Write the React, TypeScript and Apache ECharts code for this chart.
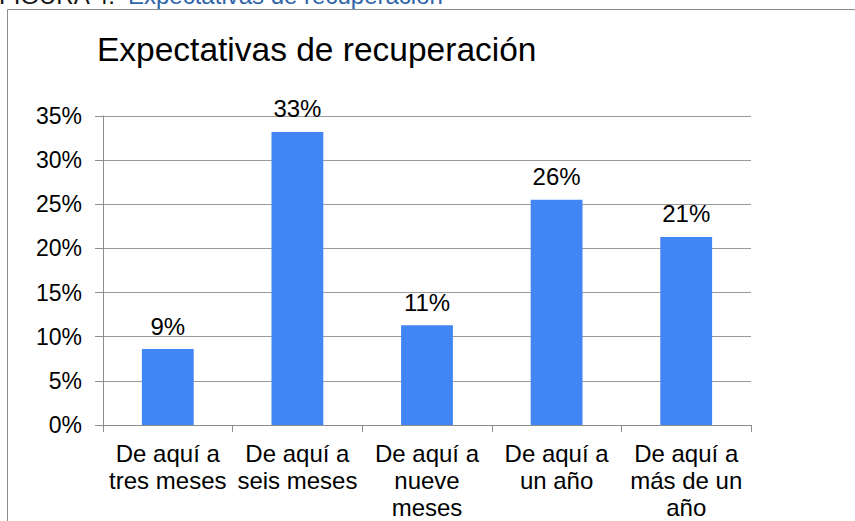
import React, { useEffect, useRef } from "react";
import * as echarts from "echarts";

const categories = [
  "De aquí a\ntres meses",
  "De aquí a\nseis meses",
  "De aquí a\nnueve\nmeses",
  "De aquí a\nun año",
  "De aquí a\nmás de un\naño",
];
const values = [8.6, 33.2, 11.3, 25.5, 21.3];
const yTicks = { min: 0, max: 35, interval: 5 };
const chartTitle = "Expectativas de recuperación";
const captionPrefix = "FIGURA 4.";
const captionText = "Expectativas de recuperación";

const FONT = "'Liberation Sans', Arial, sans-serif";

export default function App() {
  const ref = useRef<HTMLDivElement>(null);
  useEffect(() => {
    if (!ref.current) return;
    const chart = echarts.init(ref.current, null, { renderer: "svg" });
    chart.setOption({
      animation: false,
      backgroundColor: "#ffffff",
      title: {
        text: chartTitle,
        left: 97,
        top: 32,
        padding: 0,
        textStyle: { fontFamily: FONT, fontSize: 33.5, fontWeight: "normal", color: "#000" },
      },
      graphic: [
        {
          type: "rect",
          shape: { x: 7.5, y: 9.5, width: 1000, height: 1000 },
          style: { fill: "none", stroke: "#8c8c8c", lineWidth: 1 },
          silent: true,
        },
        {
          type: "text",
          x: -1,
          y: -17,
          style: {
            text: captionPrefix,
            font: `24px ${FONT}`,
            fill: "#111",
          },
        },
        {
          type: "text",
          x: 128,
          y: -17,
          style: {
            text: captionText,
            font: `24px ${FONT}`,
            fill: "#2f64a8",
          },
        },
      ],
      grid: { left: 103, right: 104, top: 116, bottom: 95, containLabel: false },
      xAxis: {
        type: "category",
        data: categories,
        axisLine: { show: true, lineStyle: { color: "#8c8c8c", width: 1 } },
        axisTick: { show: true, length: 7, lineStyle: { color: "#8c8c8c" } },
        axisLabel: {
          interval: 0,
          margin: 15,
          fontFamily: FONT,
          fontSize: 24,
          lineHeight: 27,
          color: "#000",
        },
      },
      yAxis: {
        type: "value",
        min: yTicks.min,
        max: yTicks.max,
        interval: yTicks.interval,
        axisLine: { show: true, lineStyle: { color: "#8c8c8c", width: 1 } },
        axisTick: { show: true, length: 8, lineStyle: { color: "#8c8c8c" } },
        axisLabel: {
          formatter: "{value}%",
          margin: 21,
          fontFamily: FONT,
          fontSize: 23,
          color: "#000",
        },
        splitLine: { show: true, lineStyle: { color: "#9a9a9a", width: 1 } },
      },
      series: [
        {
          type: "bar",
          data: values,
          barWidth: "40%",
          itemStyle: { color: "#4286f4" },
          label: {
            show: true,
            position: "top",
            distance: 11,
            formatter: (p: any) => `${Math.round(p.value)}%`,
            fontFamily: FONT,
            fontSize: 24,
            color: "#000",
          },
        },
      ],
    });
    return () => chart.dispose();
  }, []);
  return (
    <div
      ref={ref}
      style={{ position: "absolute", left: 0, top: 0, width: 855, height: 521 }}
    />
  );
}
